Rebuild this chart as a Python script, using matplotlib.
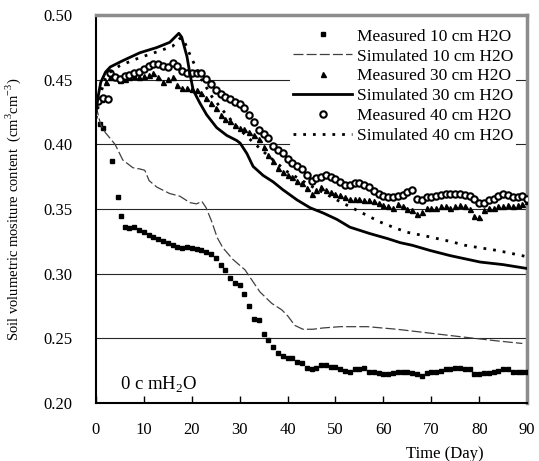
import matplotlib
matplotlib.use("Agg")
import matplotlib.pyplot as plt
import numpy as np

plt.rcParams['font.family'] = ['Liberation Serif', 'DejaVu Serif']
plt.rcParams['mathtext.fontset'] = 'custom'
plt.rcParams['mathtext.rm'] = 'Liberation Serif'

# ---------------- data ----------------
m10_day = [0.8, 1.5, 3.3, 4.6, 5.2] + list(range(6, 91))
m10_val = [0.416, 0.413, 0.387, 0.359, 0.345,
           0.336, 0.335, 0.336, 0.334, 0.332, 0.330, 0.328, 0.327, 0.325, 0.324,
           0.322, 0.321, 0.320, 0.321, 0.320, 0.319, 0.318, 0.317, 0.315, 0.312,
           0.307, 0.303, 0.297, 0.293, 0.291, 0.284, 0.275, 0.265, 0.264, 0.253,
           0.249, 0.243, 0.239, 0.236, 0.235, 0.235, 0.232, 0.231, 0.227, 0.226,
           0.227, 0.229, 0.229, 0.228, 0.228, 0.226, 0.225, 0.224, 0.226, 0.226,
           0.227, 0.224, 0.224, 0.223, 0.222, 0.222, 0.223, 0.224, 0.224, 0.224,
           0.223, 0.222, 0.221, 0.223, 0.224, 0.224, 0.225, 0.226, 0.226, 0.227,
           0.227, 0.226, 0.226, 0.222, 0.222, 0.223, 0.223, 0.224, 0.225, 0.226,
           0.226, 0.224, 0.224, 0.224, 0.224]

m30_day = list(range(1, 91))
m30_val = [0.435, 0.448, 0.452, 0.452, 0.450, 0.451, 0.452, 0.453, 0.452, 0.453,
           0.454, 0.455, 0.452, 0.448, 0.451, 0.452, 0.446, 0.444, 0.444, 0.443,
           0.442, 0.440, 0.436, 0.432, 0.428, 0.423, 0.420, 0.418, 0.415, 0.413,
           0.412, 0.410, 0.407, 0.404, 0.398, 0.392, 0.387, 0.382, 0.379, 0.376,
           0.375, 0.372, 0.370, 0.366, 0.362, 0.365, 0.367, 0.365, 0.363, 0.362,
           0.361, 0.359, 0.358, 0.358, 0.358, 0.357, 0.357, 0.356, 0.355, 0.353,
           0.352, 0.351, 0.354, 0.352, 0.350, 0.349, 0.346, 0.348, 0.351, 0.351,
           0.351, 0.352, 0.352, 0.351, 0.352, 0.353, 0.352, 0.350, 0.345, 0.344,
           0.349, 0.351, 0.351, 0.352, 0.352, 0.353, 0.352, 0.353, 0.354, 0.356]

m40_day = [0.5, 1.5, 2.5] + list(range(3, 91))
m40_val = [0.434, 0.436, 0.435,
           0.455, 0.452, 0.451, 0.453, 0.454, 0.455, 0.456, 0.458, 0.461, 0.462,
           0.462, 0.461, 0.460, 0.463, 0.461, 0.457, 0.455, 0.455, 0.455, 0.455,
           0.451, 0.447, 0.442, 0.439, 0.437, 0.435, 0.433, 0.431, 0.428, 0.423,
           0.417, 0.411, 0.408, 0.405, 0.399, 0.396, 0.393, 0.389, 0.386, 0.383,
           0.381, 0.376, 0.372, 0.374, 0.375, 0.376, 0.375, 0.373, 0.371, 0.369,
           0.369, 0.370, 0.370, 0.369, 0.367, 0.364, 0.362, 0.360, 0.359, 0.359,
           0.360, 0.361, 0.363, 0.365, 0.358, 0.357, 0.359, 0.359, 0.360, 0.361,
           0.362, 0.362, 0.362, 0.362, 0.361, 0.360, 0.358, 0.355, 0.355, 0.357,
           0.358, 0.360, 0.362, 0.361, 0.359, 0.359, 0.360, 0.358]

s10_day = [0, 1, 2, 2.9, 4, 5.6, 7.7, 9.2, 10.2, 11.1, 12.7, 15.4, 17.5, 19.6, 21,
           22.1, 23, 24.2, 25.3, 26.5, 28.6, 31.1, 32.2, 34.2, 36.7, 38.8, 40.1,
           41.5, 43.2, 45.3, 47.4, 51, 56.6, 62.8, 69.7, 76.6, 83.7, 89]
s10_val = [0.430, 0.415, 0.409, 0.405, 0.400, 0.388, 0.382, 0.381, 0.380, 0.372,
           0.367, 0.362, 0.360, 0.355, 0.354, 0.356, 0.351, 0.340, 0.328, 0.320,
           0.311, 0.303, 0.297, 0.286, 0.277, 0.272, 0.267, 0.260, 0.257, 0.257,
           0.258, 0.259, 0.259, 0.257, 0.254, 0.251, 0.248, 0.246]

s30_day = [0, 0.5, 1, 2, 3, 5.7, 9.2, 12.7, 15.4, 17.3, 17.9, 19, 19.6, 20.3, 21.7,
           23.1, 25.2, 27.3, 29.4, 30.1, 31.5, 32.8, 34.9, 37, 39, 42, 44.7, 47.4,
           50.3, 53, 57.2, 61, 63.5, 66, 69.7, 73.9, 80.2, 85, 90]
s30_val = [0.425, 0.438, 0.448, 0.456, 0.460, 0.465, 0.471, 0.475, 0.479, 0.486,
           0.483, 0.468, 0.455, 0.442, 0.432, 0.423, 0.413, 0.407, 0.403, 0.401,
           0.393, 0.383, 0.376, 0.371, 0.365, 0.357, 0.351, 0.347, 0.342, 0.336,
           0.331, 0.327, 0.324, 0.322, 0.318, 0.314, 0.309, 0.307, 0.304]

s40_day = [0, 1, 2, 3, 5, 9, 13, 16, 17.5, 18.2, 19.2, 20.3, 22.1, 24.2, 27, 29.6,
           33, 36, 39.9, 45.3, 50.3, 54.5, 59.3, 62, 65, 69, 73.9, 77, 80.2, 83.7,
           88.9, 90]
s40_val = [0.420, 0.440, 0.451, 0.456, 0.461, 0.467, 0.472, 0.476, 0.482, 0.482,
           0.473, 0.464, 0.450, 0.437, 0.424, 0.413, 0.401, 0.391, 0.379, 0.367,
           0.357, 0.349, 0.340, 0.336, 0.332, 0.329, 0.325, 0.322, 0.320, 0.318,
           0.314, 0.313]

x_ticks = [0, 10, 20, 30, 40, 50, 60, 70, 80, 90]
y_ticks = [0.20, 0.25, 0.30, 0.35, 0.40, 0.45, 0.50]

# ---------------- figure ----------------
fig = plt.figure(figsize=(5.39, 4.61), dpi=100)
ax = fig.add_axes([0.178, 0.126, 0.800, 0.841])

for yv in y_ticks[1:-1]:
    ax.axhline(yv, color='0.15', lw=0.8, zorder=1)

ax.plot(m10_day, m10_val, ls='none', marker='s', ms=3.2, color='black',
        label='Measured 10 cm H2O', zorder=3)
ax.plot(s10_day, s10_val, color='0.25', lw=0.9, ls=(0, (8, 2.5)),
        label='Simulated 10 cm H2O', zorder=4)
ax.plot(m30_day, m30_val, ls='none', marker='^', ms=3.6, color='black',
        label='Measured 30 cm H2O', zorder=3)
ax.plot(s30_day, s30_val, color='black', lw=2.0,
        label='Simulated 30 cm H2O', zorder=4)
ax.plot(m40_day, m40_val, ls='none', marker='o', ms=4.6, mfc='white',
        mec='black', mew=1.5, label='Measured 40 cm H2O', zorder=3)
ax.plot(s40_day, s40_val, color='black', lw=2.0, ls=(0, (1, 2.5)),
        label='Simulated 40 cm H2O', zorder=4)

ax.set_xlim(0, 90)
ax.set_ylim(0.20, 0.50)
ax.set_xticks(x_ticks)
ax.set_yticks(y_ticks)
ax.set_yticklabels([f'{v:.2f}' for v in y_ticks])
ax.tick_params(axis='x', direction='in', length=5, width=1, labelsize=12, pad=14)
ax.tick_params(axis='y', length=0, labelsize=12, pad=17)

for s in ['left', 'bottom']:
    ax.spines[s].set_color('black')
    ax.spines[s].set_linewidth(1.5)
for s in ['top', 'right']:
    ax.spines[s].set_color('0.55')
    ax.spines[s].set_linewidth(2.5)

ax.set_xlabel('Time (Day)', fontsize=12)
ax.xaxis.set_label_coords(0.81, -0.11)
ax.set_ylabel('Soil volumetric mositure content  (cm$^{3}$cm$^{-3}$)', fontsize=10.5)
ax.yaxis.set_label_coords(-0.17, 0.5)

ax.text(5, 0.214, '0 c mH$_2$O', fontsize=13.5, va='center', ha='left')

leg = ax.legend(loc='upper right', bbox_to_anchor=(0.975, 0.975), frameon=True,
                fontsize=12.5, handlelength=3.4, labelspacing=0.22,
                handletextpad=0.25, borderpad=0.2, borderaxespad=0.0)
leg.get_frame().set_edgecolor('none')
leg.get_frame().set_facecolor('white')
leg.get_frame().set_alpha(1.0)
leg.set_zorder(2)

fig.savefig('out.png', dpi=100)
